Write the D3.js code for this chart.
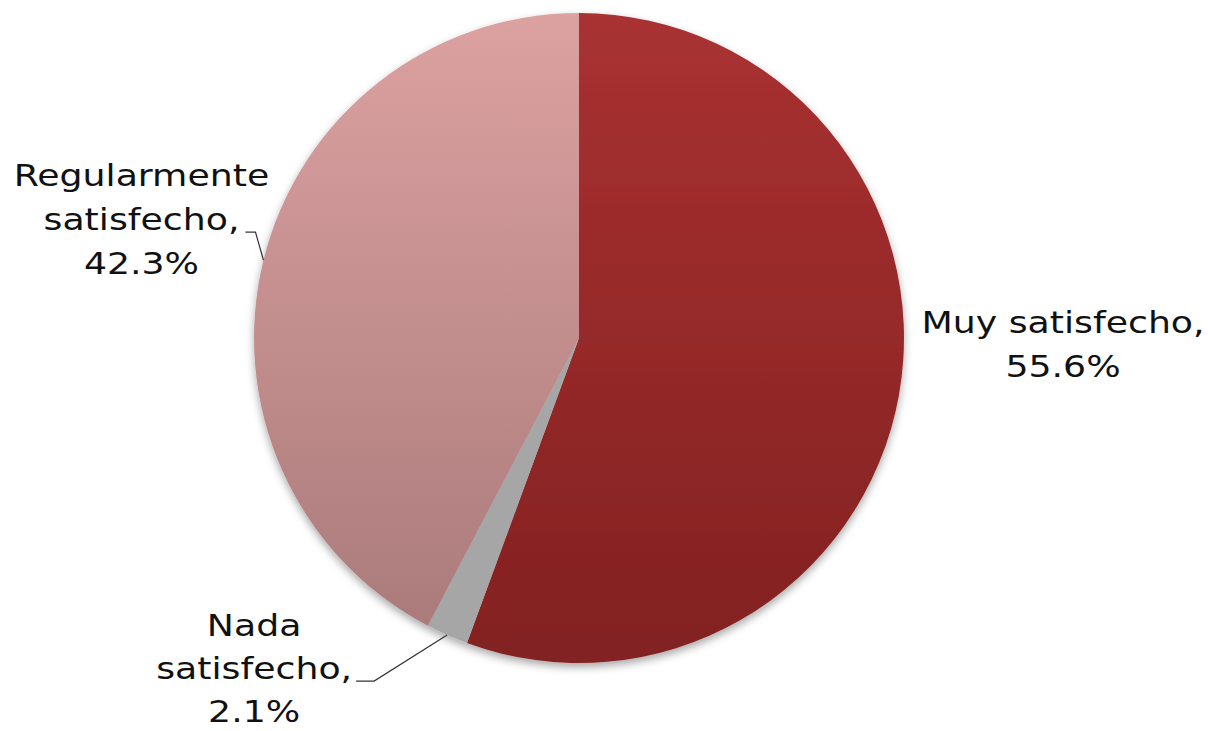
<!DOCTYPE html>
<html><head><meta charset="utf-8">
<script src="https://cdn.jsdelivr.net/npm/d3@7"></script>
<style>html,body{margin:0;padding:0;background:#fff;}svg{display:block;}</style>
</head><body>
<script>
const categories = ["Muy satisfecho", "Nada satisfecho", "Regularmente satisfecho"];
const values = [55.6, 2.1, 42.3];
const labelLines = [["Muy satisfecho,", "55.6%"], ["Nada", "satisfecho,", "2.1%"], ["Regularmente", "satisfecho,", "42.3%"]];

const W = 1208, H = 731;
const cx = 579, cy = 338, R = 325;
const svg = d3.select("body").append("svg").attr("width", W).attr("height", H);
const defs = svg.append("defs");

const grads = [
  ["g0", "#a93131", "#822121"],
  ["g1", "#a6a6a6", "#a6a6a6"],
  ["g2", "#dca1a1", "#a87979"]
];
grads.forEach(([id, c1, c2]) => {
  const g = defs.append("linearGradient").attr("id", id)
    .attr("gradientUnits", "userSpaceOnUse")
    .attr("x1", 0).attr("y1", -R).attr("x2", 0).attr("y2", R);
  g.append("stop").attr("offset", "0%").attr("stop-color", c1);
  g.append("stop").attr("offset", "100%").attr("stop-color", c2);
});
const f = defs.append("filter").attr("id", "sh").attr("x", "-10%").attr("y", "-10%").attr("width", "120%").attr("height", "125%");
f.append("feDropShadow").attr("dx", 0).attr("dy", 4).attr("stdDeviation", 4).attr("flood-color", "#000").attr("flood-opacity", 0.35);

const pie = d3.pie().sort(null).value(d => d)(values);
const arc = d3.arc().innerRadius(0).outerRadius(R);
const g = svg.append("g").attr("transform", `translate(${cx},${cy})`);
const pg = g.append("g").attr("filter", "url(#sh)");
pg.selectAll("path").data(pie).join("path")
  .attr("d", arc)
  .attr("fill", (d, i) => `url(#${grads[i][0]})`);

const font = "DejaVu Sans, Verdana, sans-serif";
const fs = 31, sx = 1.17;
const lineHeights = [44, 43, 44];
const labelOffsets = [[0, 0], [-193, 1], [-122, -74]];
const pts = pie.map(d => {
  const a = (d.startAngle + d.endAngle) / 2;
  return [R * Math.sin(a), -R * Math.cos(a)];
});
const placeMuy = [R + 159, 333 - cy];

pie.forEach((d, i) => {
  let tx, ty;
  if (i === 0) { tx = placeMuy[0]; ty = placeMuy[1]; }
  else { tx = pts[i][0] + labelOffsets[i][0]; ty = pts[i][1] + labelOffsets[i][1]; }
  const t = g.append("text").attr("text-anchor", "middle")
    .attr("transform", `translate(${tx},${ty}) scale(${sx},1)`)
    .attr("font-family", font).attr("font-size", fs).attr("fill", "#111");
  labelLines[i].forEach((s, k) => {
    t.append("tspan").attr("x", 0).attr("y", k * lineHeights[i]).text(s);
  });
});

const p1 = pts[1];
g.append("polyline").attr("fill", "none").attr("stroke", "#333").attr("stroke-width", 1.2)
  .attr("points", [[p1[0] - 91, p1[1] + 46], [p1[0] - 73, p1[1] + 46], [p1[0], p1[1]]].map(p => p.join(",")).join(" "));
const p2 = pts[2];
g.append("polyline").attr("fill", "none").attr("stroke", "#333").attr("stroke-width", 1.2)
  .attr("points", [[p2[0] - 18, p2[1] - 28], [p2[0] - 8, p2[1] - 28], [p2[0], p2[1]]].map(p => p.join(",")).join(" "));
</script>
</body></html>
